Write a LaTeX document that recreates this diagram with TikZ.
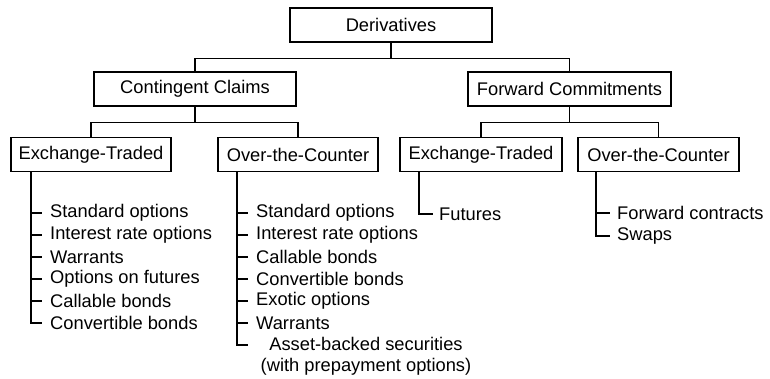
\documentclass[tikz,border=0pt]{standalone}
\usepackage{fontspec}
\setmainfont{Liberation Sans}
\tikzset{
  catbox/.style={draw, line width=1.5pt, minimum height=34pt, inner sep=0pt, font=\fontsize{18.3}{21}\selectfont},
  leaf/.style={anchor=west, inner sep=0pt, font=\fontsize{18.3}{21}\selectfont},
  link/.style={line width=1.5pt}
}
\begin{document}
\begin{tikzpicture}[x=1pt,y=-1pt]
\useasboundingbox (0,0) rectangle (770,379);
% boxes
\node[catbox, minimum width=202pt] (deriv) at (391,25) {Derivatives};
\node[catbox, minimum width=202pt] (contingent) at (195,89) {Contingent Claims};
\node[catbox, minimum width=203pt] (forward) at (569.5,89) {Forward Commitments};
\node[catbox, minimum width=160pt] (cet) at (91,154.5) {Exchange-Traded};
\node[catbox, minimum width=160pt] (cotc) at (298,154.5) {Over-the-Counter};
\node[catbox, minimum width=162pt] (fet) at (481,154.5) {Exchange-Traded};
\node[catbox, minimum width=161pt] (fotc) at (658.5,154.5) {Over-the-Counter};
% tree links
\draw[link] (deriv.south) -- ++(0,16) -| (contingent.north);
\draw[link] (deriv.south) -- ++(0,16) -| (forward.north);
\draw[link] (contingent.south) -- ++(0,16) -| (cet.north);
\draw[link] (contingent.south) -- ++(0,16) -| (cotc.north);
\draw[link] (forward.south) -- ++(0,16) -| (fet.north);
\draw[link] (forward.south) -- ++(0,16) -| (fotc.north);
% leaves, contingent claims exchange-traded
\coordinate (cetT) at (31,172);
\node[leaf] (cet1) at (50,213) {Standard options};
\node[leaf] (cet2) at (50,235) {Interest rate options};
\node[leaf] (cet3) at (50,257) {Warrants};
\node[leaf] (cet4) at (50,279) {Options on futures};
\node[leaf] (cet5) at (50,301) {Callable bonds};
\node[leaf] (cet6) at (50,323) {Convertible bonds};
\draw[link] (cetT) |- ([xshift=-8pt]cet6.west);
\foreach \n in {1,...,5}
  \draw[link] (cetT |- cet\n.west) -- ([xshift=-8pt]cet\n.west);
% leaves, contingent claims over-the-counter
\coordinate (cotcT) at (237,172);
\node[leaf] (cotc1) at (256,213) {Standard options};
\node[leaf] (cotc2) at (256,235) {Interest rate options};
\node[leaf] (cotc3) at (256,257) {Callable bonds};
\node[leaf] (cotc4) at (256,279) {Convertible bonds};
\node[leaf] (cotc5) at (256,301) {Exotic options};
\node[leaf] (cotc6) at (256,323) {Warrants};
\node[align=center, inner sep=0pt, font=\fontsize{18.3}{21}\selectfont] (cotc7) at (366,356) {Asset-backed securities\\(with prepayment options)};
\coordinate (cotc7L) at (248,345);
\draw[link] (cotcT) |- (cotc7L);
\foreach \n in {1,...,6}
  \draw[link] (cotcT |- cotc\n.west) -- ([xshift=-8pt]cotc\n.west);
% leaves, forward commitments
\coordinate (fetT) at (419,172);
\node[leaf] (fet1) at (439,214) {Futures};
\draw[link] (fetT) |- ([xshift=-6pt]fet1.west);
\coordinate (fotcT) at (596,172);
\node[leaf] (fotc1) at (617,213) {Forward contracts};
\node[leaf] (fotc2) at (617,236) {Swaps};
\draw[link] (fotcT) |- ([xshift=-7pt]fotc2.west);
\draw[link] (fotcT |- fotc1.west) -- ([xshift=-7pt]fotc1.west);
\end{tikzpicture}
\end{document}
